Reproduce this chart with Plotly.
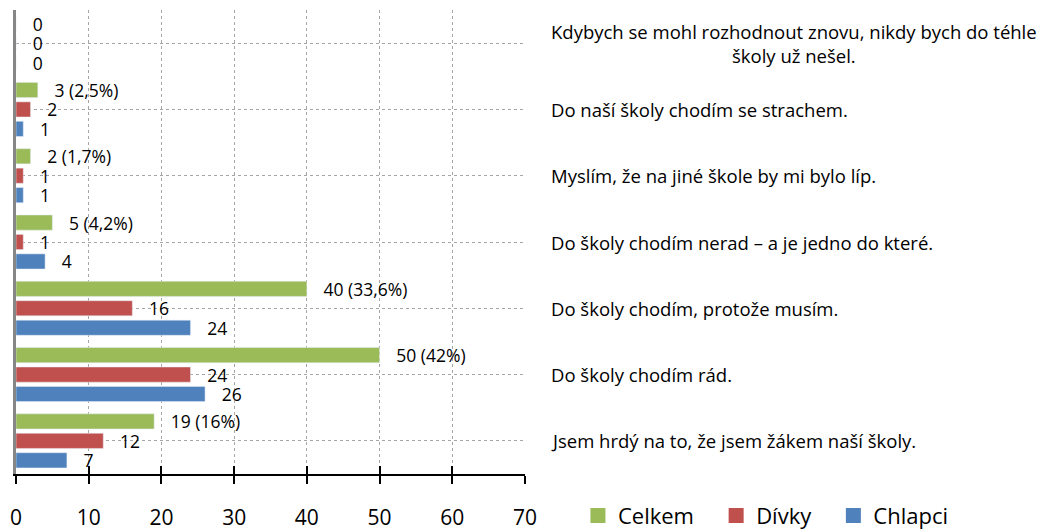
import plotly.graph_objects as go

categories = [
    "Kdybych se mohl rozhodnout znovu, nikdy bych do téhle<br>školy už nešel.",
    "Do naší školy chodím se strachem.",
    "Myslím, že na jiné škole by mi bylo líp.",
    "Do školy chodím nerad – a je jedno do které.",
    "Do školy chodím, protože musím.",
    "Do školy chodím rád.",
    "Jsem hrdý na to, že jsem žákem naší školy.",
]
celkem = [0, 3, 2, 5, 40, 50, 19]
celkem_labels = ["0", "3 (2,5%)", "2 (1,7%)", "5 (4,2%)", "40 (33,6%)", "50 (42%)", "19 (16%)"]
divky = [0, 2, 1, 1, 16, 24, 12]
chlapci = [0, 1, 1, 4, 24, 26, 7]
x_ticks = [0, 10, 20, 30, 40, 50, 60, 70]

series = [
    ("Celkem", celkem, celkem_labels, "#9BBB59"),
    ("Dívky", divky, [str(v) for v in divky], "#C0504D"),
    ("Chlapci", chlapci, [str(v) for v in chlapci], "#4F81BD"),
]

FONT = "Open Sans"
pad = "\u00a0\u00a0\u00a0"
legend_pad = "\u00a0\u00a0\u00a0"
ycats = list(range(len(categories)))

fig = go.Figure()
for name, vals, labels, color in series:
    fig.add_trace(go.Bar(
        x=vals, y=ycats, orientation="h", name=name,
        marker=dict(color=color),
        text=[pad + t for t in labels], textposition="outside",
        textfont=dict(family=FONT, size=17.5, color="black"),
        constraintext="none", cliponaxis=False, showlegend=False,
    ))
for name, vals, labels, color in series:
    fig.add_trace(go.Scatter(
        x=[None], y=[None], mode="markers", name=name + legend_pad,
        marker=dict(symbol="square", size=15, color=color),
    ))

# crossing tick marks: inside part from an overlay axis
fig.add_trace(go.Scatter(x=[None], y=[None], xaxis="x2", showlegend=False))

for i, cat in enumerate(categories):
    fig.add_annotation(
        x=1.047, xref="paper", y=i, yref="y", text=cat, showarrow=False,
        xanchor="left", yanchor="middle", align="center",
        font=dict(family=FONT, size=18.5, color="black"),
    )

fig.update_layout(
    width=1040, height=532, autosize=False,
    margin=dict(l=16, r=515, t=10, b=58, autoexpand=False),
    paper_bgcolor="white", plot_bgcolor="white",
    barmode="group", bargap=0.12, bargroupgap=0.22,
    font=dict(family=FONT, color="black"),
    xaxis=dict(
        range=[0, 70], tickvals=x_ticks, ticktext=[str(v) for v in x_ticks],
        showgrid=True, gridcolor="#a6a6a6", griddash="dot", gridwidth=1,
        zeroline=False, showline=True, linecolor="black", linewidth=2,
        ticks="outside", ticklen=8, tickwidth=2, tickcolor="black",
        tickfont=dict(family=FONT, size=21, color="black"),
        ticklabelstandoff=16, automargin=False,
    ),
    xaxis2=dict(
        range=[0, 70], tickvals=x_ticks, overlaying="x", anchor="y",
        showgrid=False, zeroline=False, showline=False, showticklabels=False,
        ticks="inside", ticklen=8, tickwidth=2, tickcolor="black",
        automargin=False,
    ),
    yaxis=dict(
        range=[len(categories) - 0.5, -0.5], tickvals=ycats,
        showticklabels=False, ticks="", tickson="boundaries",
        showgrid=True, gridcolor="#a6a6a6", griddash="dot", gridwidth=1,
        zeroline=False, showline=True, linecolor="#868686", linewidth=3,
        automargin=False,
    ),
    legend=dict(
        orientation="h", x=1.104, xanchor="left", y=-0.09, yanchor="middle",
        font=dict(family=FONT, size=22, color="black"),
        bgcolor="rgba(0,0,0,0)",
    ),
)

fig.write_html(
    "out.html",
    config={"displayModeBar": False},
    post_script="document.body.style.margin='0px';",
)
